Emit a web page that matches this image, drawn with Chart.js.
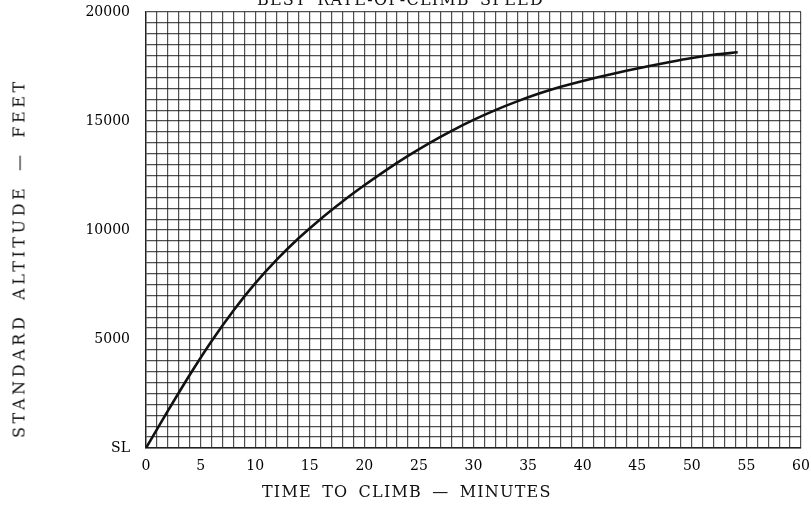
<!DOCTYPE html>
<html>
<head>
<meta charset="utf-8">
<script src="https://cdn.jsdelivr.net/npm/chart.js@4/dist/chart.umd.min.js"></script>
<style>
  html, body { margin: 0; padding: 0; background: #fff; overflow: hidden; }
  #wrap { position: relative; width: 811px; height: 506px; }
  #chart { position: absolute; left: 0; top: 0; }
  .lbl {
    position: absolute; font-family: 'DejaVu Serif', serif; color: #111;
    white-space: nowrap; font-size: 16px; letter-spacing: 1.2px; word-spacing: 4px;
  }
  #title  { left: 257px; top: -10px; }
  #xtitle { left: 262px; top: 482px; }
  #ytitle { left: 19px; top: 258px; letter-spacing: 3.6px; word-spacing: 5px;
            transform: translate(-50%, -50%) rotate(-90deg); }
</style>
</head>
<body>
<div id="wrap">
  <canvas id="chart" width="811" height="506"></canvas>
  <div class="lbl" id="title">BEST RATE-OF-CLIMB SPEED</div>
  <div class="lbl" id="xtitle">TIME TO CLIMB — MINUTES</div>
  <div class="lbl" id="ytitle">STANDARD ALTITUDE — FEET</div>
</div>
<script>
(function () {
    'use strict';

    /* ── Data ───────────────────────────────────────────────────── */
    var timeMin    = [0, 2, 4, 6, 8, 10, 12, 14, 16, 18, 20, 22, 24, 26,
                      28, 30, 32, 34, 36, 38, 40, 42, 44, 46, 48, 50, 52, 54.2];
    var altitudeFt = [0, 1700, 3350, 4900, 6300, 7550, 8650, 9630, 10510, 11310,
                      12050, 12750, 13400, 14000, 14550, 15050, 15500, 15900,
                      16260, 16570, 16840, 17080, 17305, 17515, 17710, 17890,
                      18040, 18150];
    var xTickLabels = [0, 5, 10, 15, 20, 25, 30, 35, 40, 45, 50, 55, 60];
    var yTickLabels = { 0: 'SL', 5000: '5000', 10000: '10000', 15000: '15000', 20000: '20000' };

    var points = timeMin.map(function (t, i) { return { x: t, y: altitudeFt[i] }; });

    var gridColor = 'rgba(20,20,20,0.75)';
    var tickFont  = { family: "'DejaVu Serif', serif", size: 14 };

    new Chart(document.getElementById('chart'), {
        type: 'line',
        data: {
            datasets: [{
                data: points,
                borderColor: '#111',
                borderWidth: 2.6,
                pointRadius: 0,
                cubicInterpolationMode: 'monotone',
                fill: false,
            }],
        },
        options: {
            responsive: false,
            animation: false,
            layout: { padding: { top: 12, right: 10, left: 0, bottom: 0 } },
            plugins: { legend: { display: false }, tooltip: { enabled: false } },
            scales: {
                x: {
                    type: 'linear',
                    min: 0, max: 60,
                    afterFit: function (s) { s.height = 58; s.paddingLeft = 0; s.paddingRight = 0; },
                    grid: { color: gridColor, lineWidth: 1.2, drawTicks: false },
                    border: { color: '#222', width: 1.4 },
                    ticks: {
                        stepSize: 1, autoSkip: false, maxRotation: 0,
                        color: '#000', font: tickFont, padding: 10,
                        callback: function (v) { return xTickLabels.indexOf(v) >= 0 ? String(v) : ''; },
                    },
                },
                y: {
                    min: 0, max: 20000,
                    afterFit: function (s) { s.width = 146; s.paddingTop = 0; s.paddingBottom = 0; },
                    grid: { color: gridColor, lineWidth: 1.2, drawTicks: false },
                    border: { color: '#222', width: 1.4 },
                    ticks: {
                        stepSize: 500, autoSkip: false,
                        color: '#000', font: tickFont, padding: 16,
                        callback: function (v) { return yTickLabels[v] !== undefined ? yTickLabels[v] : ''; },
                    },
                },
            },
        },
    });
}());
</script>
</body>
</html>
